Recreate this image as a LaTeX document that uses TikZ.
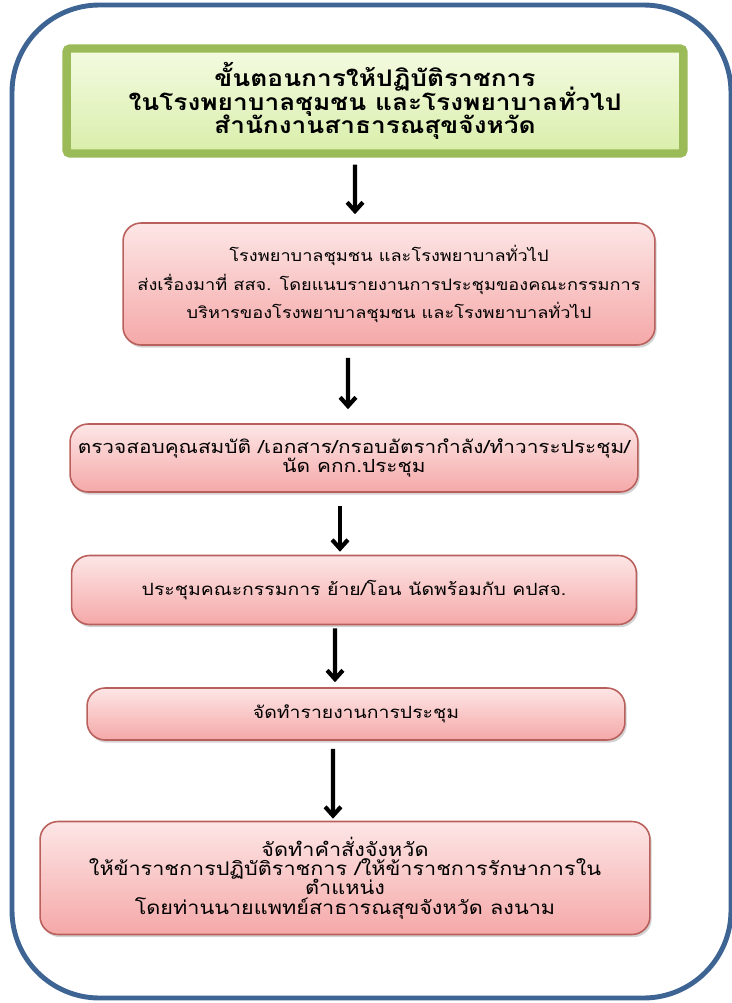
\documentclass[tikz,border=0pt]{standalone}
\usepackage{fontspec}
\setmainfont[Script=Thai, FakeStretch=1.15]{Loma}
\usetikzlibrary{arrows.meta,shadows}
\setlength{\lineskiplimit}{-20pt}

\definecolor{frameblue}{HTML}{3E6494}
\definecolor{titlegreen}{HTML}{9BBB59}
\definecolor{titletop}{HTML}{F4FBE2}
\definecolor{titlebot}{HTML}{D9EEAA}
\definecolor{stepred}{HTML}{B9605C}
\definecolor{steptop}{HTML}{FDE6E6}
\definecolor{stepbot}{HTML}{F5A8A8}

\begin{document}
\begin{tikzpicture}[x=0.02cm, y=-0.02cm,
    titlebox/.style={draw=titlegreen, line width=4.8pt, top color=titletop, bottom color=titlebot,
      rounded corners=2pt, minimum width=12.34cm, minimum height=2.1cm, align=center, inner sep=0pt,
      font=\fontsize{13}{13.4}\selectfont\bfseries,
      drop shadow={opacity=0.35, shadow xshift=1pt, shadow yshift=-1.5pt}},
    stepbox/.style={draw=stepred, line width=0.9pt, top color=steptop, bottom color=stepbot,
      rounded corners=0.36cm, align=center, inner sep=0pt,
      font=\fontsize{9.6}{11}\selectfont,
      drop shadow={opacity=0.35, shadow xshift=1pt, shadow yshift=-1.5pt}},
    flow/.style={line width=2.4pt, -{Straight Barb[length=5pt, width=9pt]}}]
  \useasboundingbox (0,0) rectangle (732,1003);
  % outer frame
  \draw[frameblue, line width=2.8pt, rounded corners=1.75cm] (12,5) rectangle (731,998);

  \node[titlebox] (t) at (375,101) {ขั้นตอนการให้ปฏิบัติราชการ\\ในโรงพยาบาลชุมชน และโรงพยาบาลทั่วไป\\สำนักงานสาธารณสุขจังหวัด};
  \node[stepbox, minimum width=10.64cm, minimum height=2.44cm, font=\fontsize{9}{16}\selectfont] (b1) at (389,284)
    {โรงพยาบาลชุมชน และโรงพยาบาลทั่วไป\\ส่งเรื่องมาที่ สสจ. โดยแนบรายงานการประชุมของคณะกรรมการ\\บริหารของโรงพยาบาลชุมชน และโรงพยาบาลทั่วไป};
  \node[stepbox, minimum width=11.36cm, minimum height=1.36cm, font=\fontsize{10.3}{11.3}\selectfont] (b2) at (354,458)
    {ตรวจสอบคุณสมบัติ /เอกสาร/กรอบอัตรากำลัง/ทำวาระประชุม/\\นัด คกก.ประชุม};
  \node[stepbox, minimum width=11.3cm, minimum height=1.38cm] (b3) at (354,590)
    {ประชุมคณะกรรมการ ย้าย/โอน นัดพร้อมกับ คปสจ.};
  \node[stepbox, minimum width=10.76cm, minimum height=1.04cm] (b4) at (356,714)
    {จัดทำรายงานการประชุม};
  \node[stepbox, minimum width=12.2cm, minimum height=2.26cm, font=\fontsize{10.7}{11}\selectfont] (b5) at (345,878)
    {จัดทำคำสั่งจังหวัด\\ให้ข้าราชการปฏิบัติราชการ /ให้ข้าราชการรักษาการใน\\ตำแหน่ง\\โดยท่านนายแพทย์สาธารณสุขจังหวัด ลงนาม};

  % arrows
  \draw[flow, shorten <=0.14cm, shorten >=0.16cm] ([xshift=-0.4cm]t.south) -- ([xshift=-0.68cm]b1.north);
  \draw[flow, shorten <=0.24cm, shorten >=0.28cm] ([xshift=-0.82cm]b1.south) -- ([xshift=-0.12cm]b2.north);
  \draw[flow, shorten <=0.26cm, shorten >=0.06cm] ([xshift=-0.28cm]b2.south) -- ([xshift=-0.28cm]b3.north);
  \draw[flow, shorten <=0.06cm, shorten >=0.1cm] ([xshift=-0.38cm]b3.south) -- ([xshift=-0.42cm]b4.north);
  \draw[flow, shorten <=0.16cm, shorten >=0.04cm] ([xshift=-0.46cm]b4.south) -- ([xshift=-0.24cm]b5.north);
\end{tikzpicture}
\end{document}
